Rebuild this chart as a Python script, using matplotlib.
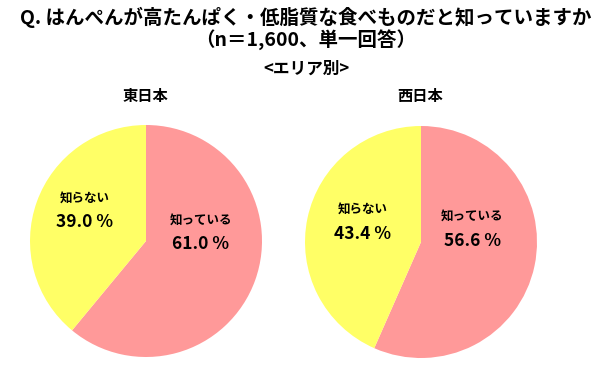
import matplotlib
matplotlib.use("Agg")
import matplotlib.pyplot as plt

plt.rcParams['font.family'] = ['Noto Sans CJK JP', 'DejaVu Sans']

# data
areas = ['東日本', '西日本']
labels = ['知っている', '知らない']
values = {'東日本': [61.0, 39.0], '西日本': [56.6, 43.4]}
colors = ['#FF9999', '#FFFF66']

W, H = 612, 386
fig = plt.figure(figsize=(W / 100, H / 100), dpi=100)

# pie centres / radius in pixels, label offsets in units of radius
centres = {'東日本': (146, 241), '西日本': (421, 242)}
radius = 116
label_pos = {
    '東日本': [(0.47, 0.08), (-0.53, 0.27)],
    '西日本': [(0.44, 0.12), (-0.50, 0.18)],
}

for area in areas:
    cx, cy = centres[area]
    ax = fig.add_axes([(cx - radius) / W, (H - cy - radius) / H,
                       2 * radius / W, 2 * radius / H])
    ax.pie(values[area], colors=colors, startangle=90, counterclock=False,
           radius=1, wedgeprops=dict(linewidth=0))
    ax.set_xlim(-1, 1)
    ax.set_ylim(-1, 1)
    ax.set_aspect('auto')
    ax.axis('off')
    for (lx, ly), lab, v in zip(label_pos[area], labels, values[area]):
        ax.text(lx, ly + 0.1, lab, ha='center', va='center',
                fontsize=9, fontweight='bold')
        ax.text(lx, ly - 0.11, f'{v:.1f} %', ha='center', va='center',
                fontsize=12.5, fontweight='bold')
    fig.text((cx - 1) / W, 1 - 96 / H, area, ha='center', va='center',
             fontsize=11, fontweight='bold')

fig.text(0.5, 1 - 17 / H, 'Q. はんぺんが高たんぱく・低脂質な食べものだと知っていますか',
         ha='center', va='center', fontsize=14, fontweight='bold')
fig.text(0.5, 1 - 40 / H, '（n＝1,600、単一回答）',
         ha='center', va='center', fontsize=14, fontweight='bold')
fig.text(0.5, 1 - 69 / H, '<エリア別>',
         ha='center', va='center', fontsize=12, fontweight='bold')

fig.savefig('out.png', dpi=100)
